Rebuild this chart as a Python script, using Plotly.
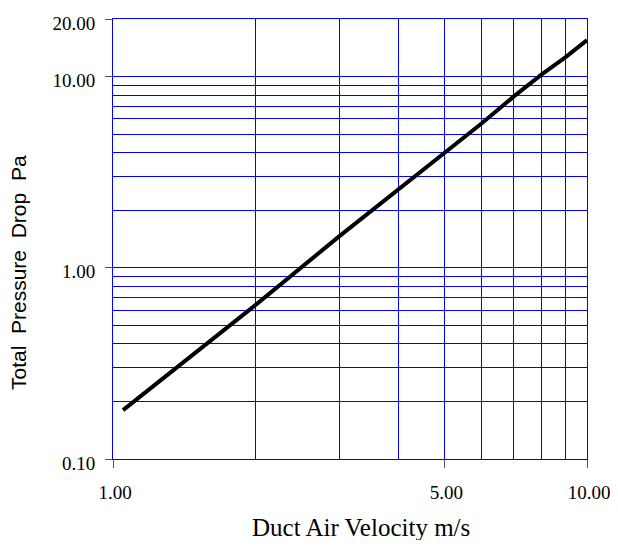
import plotly.graph_objects as go

# Data
velocity = [1.05, 2, 3, 4, 5, 6, 7, 8, 9, 10]
pressure = [0.18, 0.64, 1.46, 2.56, 4.0, 5.7, 7.85, 10.2, 12.6, 15.5]

x_tickvals = [1, 5, 10]
x_ticktext = ["1.00", "5.00", "10.00"]
x_minor = [2, 3, 4, 6, 7, 8, 9]

y_tickvals = [0.1, 1, 10, 20]
y_ticktext = ["0.10", "1.00", "10.00", "20.00"]
y_minor = [0.2, 0.3, 0.4, 0.5, 0.6, 0.7, 0.8, 0.9, 2, 3, 4, 5, 6, 7, 8, 9]

x_title = "Duct Air Velocity m/s"
y_title = "Total\u00a0 Pressure\u00a0 Drop\u00a0 Pa"

GRID = "#0000ff"
tickfont = dict(family="Liberation Serif", size=19, color="black")

fig = go.Figure()
fig.add_trace(go.Scatter(x=velocity, y=pressure, mode="lines",
                         line=dict(color="black", width=4), showlegend=False,
                         hoverinfo="skip"))

fig.update_layout(
    width=610, height=532, autosize=False,
    margin=dict(l=105, r=31, t=11, b=81, autoexpand=False),
    plot_bgcolor="white", paper_bgcolor="white",
    xaxis=dict(type="log", range=[0, 1], tickvals=x_tickvals, ticktext=x_ticktext,
               ticks="outside", ticklen=8, tickcolor="#555", tickwidth=1,
               showgrid=True, gridcolor=GRID, gridwidth=1,
               minor=dict(tickvals=x_minor, showgrid=True, gridcolor=GRID, gridwidth=1, ticks=""),
               showline=True, linecolor=GRID, linewidth=1, mirror=True,
               zeroline=False, tickfont=tickfont, ticklabelshift=2, ticklabelstandoff=8,
               automargin=False, ticklabeloverflow="allow"),
    yaxis=dict(type="log", range=[-1, 1.30103], tickvals=y_tickvals, ticktext=y_ticktext,
               ticks="outside", ticklen=7, tickcolor="#555", tickwidth=1,
               showgrid=True, gridcolor=GRID, gridwidth=1,
               minor=dict(tickvals=y_minor, showgrid=True, gridcolor=GRID, gridwidth=1, ticks=""),
               showline=True, linecolor=GRID, linewidth=1, mirror=True,
               zeroline=False, tickfont=tickfont, ticklabelshift=4, ticklabelstandoff=6,
               automargin=False),
    annotations=[
        dict(text=x_title, xref="paper", yref="paper", x=0.524, y=-0.155,
             xanchor="center", yanchor="middle", showarrow=False,
             font=dict(family="Liberation Serif", size=25, color="black")),
        dict(text=y_title, xref="paper", yref="paper", x=-0.198, y=0.423,
             xanchor="center", yanchor="middle", textangle=-90, showarrow=False,
             font=dict(family="Liberation Sans", size=21, color="black")),
    ],
)

fig.write_html("out.html")
